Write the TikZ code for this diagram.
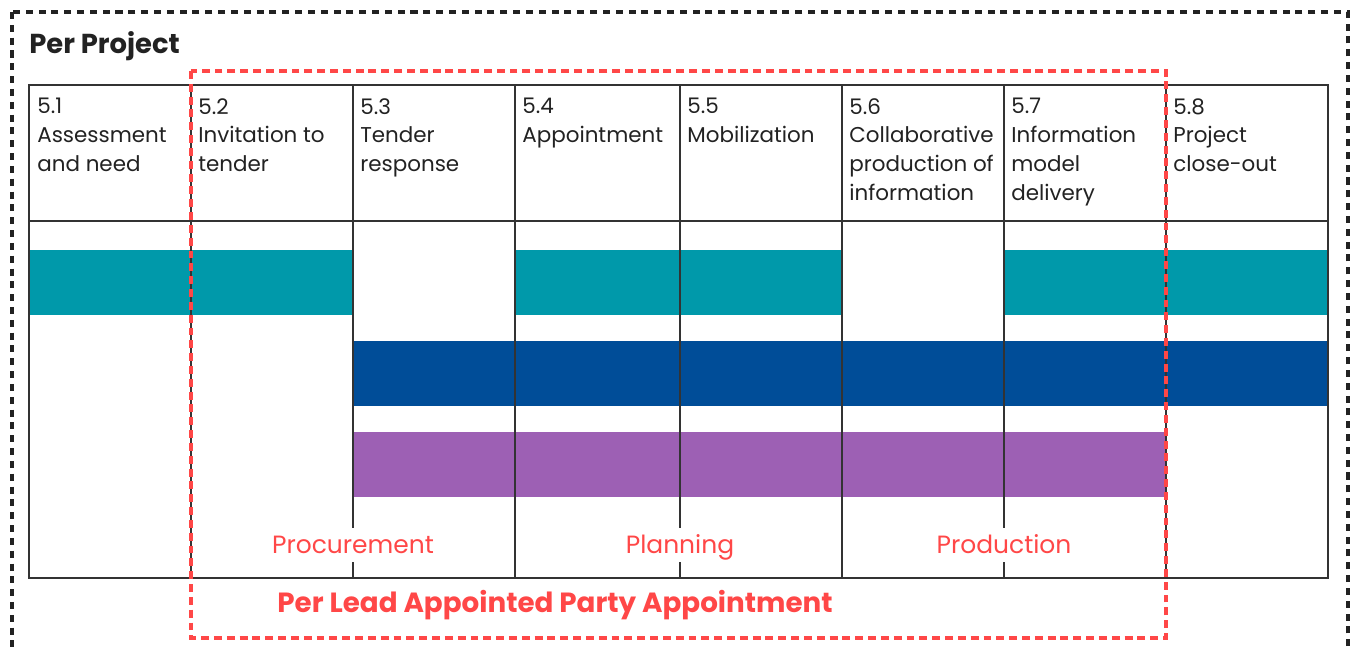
\documentclass[tikz,border=0pt]{standalone}
\usepackage{fontspec}
\setmainfont{Poppins}
\usepackage{xcolor}
\usepackage{tikz}

\definecolor{barteal}{HTML}{0099AA}
\definecolor{barblue}{HTML}{004D98}
\definecolor{barpurple}{HTML}{9D60B4}
\definecolor{leadred}{HTML}{FF4747}
\definecolor{linegray}{HTML}{333333}
\definecolor{textgray}{HTML}{222222}

\begin{document}
\begin{tikzpicture}[
          x=0.02cm,y=-0.02cm,
          grid/.style={
              draw=linegray,
              line width=0.8pt
            },bar/.style={
              fill=#1
            },head/.style={
              anchor=north west,
              align=left,
              inner sep=0pt,
              text=textgray,
              font=\fontsize{12.2}{16.4}\selectfont
            },phase/.style={
              anchor=base,
              fill=white,
              inner xsep=2pt,
              inner ysep=5pt,
              text height=0.9em,
              text depth=0pt,
              text=leadred,
              font=\fontsize{14.2}{17}\selectfont
            },outerdash/.style={
              draw=textgray,
              line width=1.8pt,
              dash pattern=on 4pt off 3.3pt
            },leaddash/.style={
              draw=leadred,
              line width=1.8pt,
              dash pattern=on 4.5pt off 2.8pt
            }
        ]
        \useasboundingbox (0,0) rectangle (1357,652);

        % プロジェクト全体の枠
        \draw[outerdash] (12,12) rectangle (1348,700);
        \node[anchor=base west,inner sep=0pt,text=textgray,
          font=\fontsize{15.6}{18}\selectfont\bfseries] (project) at (29,54) {Per Project};

        % 帯の描画
        \fill[bar=barteal] (29,250) rectangle (353,315);
        \fill[bar=barteal] (515,250) rectangle (842,315);
        \fill[bar=barteal] (1004,250) rectangle (1328,315);
        \fill[bar=barblue] (353,341) rectangle (1328,406);
        \fill[bar=barpurple] (353,432) rectangle (1166,497);

        % 表の罫線
        \draw[grid] (29,85) rectangle (1328,578);
        \draw[grid] (29,221) -- (1328,221);
        \draw[grid] (191,85) -- (191,578);
        \draw[grid] (353,85) -- (353,578);
        \draw[grid] (515,85) -- (515,578);
        \draw[grid] (680,85) -- (680,578);
        \draw[grid] (842,85) -- (842,578);
        \draw[grid] (1004,85) -- (1004,578);
        \draw[grid] (1166,85) -- (1166,578);

        % 各段階の見出し
        \node[head] (assessment) at (37,98) {5.1\\Assessment\\and need};
        \node[head] (invitation) at (198,98) {5.2\\Invitation to\\tender};
        \node[head] (tender) at (360,98) {5.3\\Tender\\response};
        \node[head] (appointment) at (522,98) {5.4\\Appointment};
        \node[head] (mobilization) at (687,98) {5.5\\Mobilization};
        \node[head] (collaborative) at (849,98) {5.6\\Collaborative\\production of\\information};
        \node[head] (delivery) at (1011,98) {5.7\\Information\\model\\delivery};
        \node[head] (closeout) at (1173,98) {5.8\\Project\\close-out};

        % 区分の名前
        \node[phase] (procurement) at (353,553) {Procurement};
        \node[phase] (planning) at (680,553) {Planning};
        \node[phase] (production) at (1004,553) {Production};

        % 主任受託者ごとの枠
        \draw[leaddash] (191,71) rectangle (1166,638);
        \node[anchor=base,inner sep=0pt,text=leadred,
          font=\fontsize{15.8}{18}\selectfont\bfseries] (lead) at (555,612) {Per Lead Appointed Party Appointment};

      \end{tikzpicture}
\end{document}
